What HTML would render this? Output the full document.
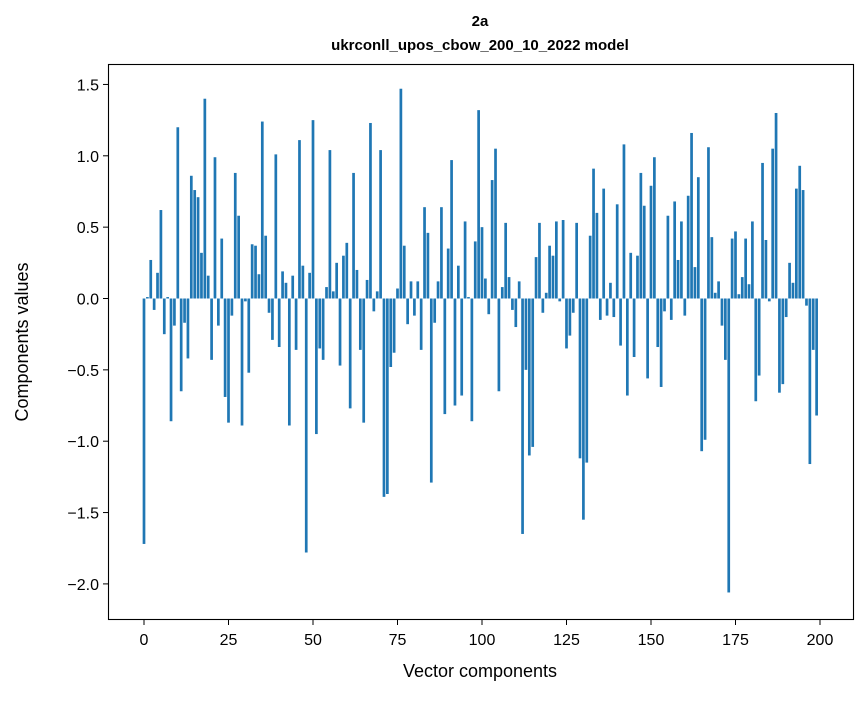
<!DOCTYPE html>
<html><head><meta charset="utf-8"><style>
body{margin:0;background:#fff;}
svg text{font-family:"Liberation Sans","DejaVu Sans",sans-serif;fill:#000;}
</style></head><body>
<svg id="chart" width="867" height="696" xmlns="http://www.w3.org/2000/svg">
<rect x="0" y="0" width="867" height="696" fill="#fff"/>
<text x="480" y="26" text-anchor="middle" font-size="15" font-weight="bold">2a</text>
<text x="480" y="50" text-anchor="middle" font-size="15" font-weight="bold">ukrconll_upos_cbow_200_10_2022 model</text>
<g id="bars"></g>
<rect x="108.5" y="64.5" width="745" height="555" fill="none" stroke="#000" stroke-width="1.1"/>
<g id="xticks"></g>
<g id="yticks"></g>
<text x="480" y="677" text-anchor="middle" font-size="18">Vector components</text>
<text transform="translate(28,342) rotate(-90)" text-anchor="middle" font-size="18">Components values</text>
</svg>
<script>
const values = [-1.72,0.01,0.27,-0.08,0.18,0.62,-0.25,0.01,-0.86,-0.19,1.20,-0.65,-0.17,-0.42,0.86,0.76,0.71,0.32,1.40,0.16,-0.43,0.99,-0.19,0.42,-0.69,-0.87,-0.12,0.88,0.58,-0.89,-0.02,-0.52,0.38,0.37,0.17,1.24,0.44,-0.10,-0.29,1.01,-0.34,0.19,0.11,-0.89,0.16,-0.36,1.11,0.23,-1.78,0.18,1.25,-0.95,-0.35,-0.43,0.08,1.04,0.05,0.25,-0.47,0.30,0.39,-0.77,0.88,0.20,-0.36,-0.87,0.13,1.23,-0.09,0.05,1.04,-1.39,-1.37,-0.48,-0.38,0.07,1.47,0.37,-0.18,0.12,-0.12,0.12,-0.36,0.64,0.46,-1.29,-0.17,0.12,0.64,-0.81,0.35,0.97,-0.75,0.23,-0.68,0.54,0.01,-0.86,0.40,1.32,0.50,0.14,-0.11,0.83,1.05,-0.65,0.08,0.53,0.15,-0.08,-0.20,0.12,-1.65,-0.50,-1.10,-1.04,0.29,0.53,-0.10,0.04,0.37,0.30,0.54,-0.02,0.55,-0.35,-0.26,-0.10,0.53,-1.12,-1.55,-1.15,0.44,0.91,0.60,-0.15,0.77,-0.12,0.11,-0.13,0.66,-0.33,1.08,-0.68,0.32,-0.41,0.30,0.88,0.65,-0.56,0.79,0.99,-0.34,-0.62,-0.09,0.58,-0.15,0.68,0.27,0.54,-0.12,0.72,1.16,0.22,0.85,-1.07,-0.99,1.06,0.43,0.04,0.12,-0.19,-0.43,-2.06,0.42,0.47,0.03,0.15,0.42,0.10,0.54,-0.72,-0.54,0.95,0.41,-0.02,1.05,1.30,-0.66,-0.60,-0.13,0.25,0.11,0.77,0.93,0.76,-0.05,-1.16,-0.36,-0.82];
const xTicks = [0,25,50,75,100,125,150,175,200];
const yTicks = [-2.0,-1.5,-1.0,-0.5,0.0,0.5,1.0,1.5];
const yTickLabels = ["\u22122.0","\u22121.5","\u22121.0","\u22120.5","0.0","0.5","1.0","1.5"];

const NS="http://www.w3.org/2000/svg";
function xScale(v){return 144+v*(676/200);}
function yScale(v){return 298.5-v*142.7;}
const barsG=document.getElementById('bars');
values.forEach((v,i)=>{
  const r=document.createElementNS(NS,'rect');
  const x0=xScale(i-0.4), x1=xScale(i+0.4);
  const y0=yScale(Math.max(v,0)), y1=yScale(Math.min(v,0));
  r.setAttribute('x',x0);r.setAttribute('width',x1-x0);
  r.setAttribute('y',y0);r.setAttribute('height',Math.max(y1-y0,0.3));
  r.setAttribute('fill','#1f77b4');
  
  
  barsG.appendChild(r);
});
const xg=document.getElementById('xticks');
xTicks.forEach(t=>{
  const x=xScale(t);
  const l=document.createElementNS(NS,'line');
  l.setAttribute('x1',x);l.setAttribute('x2',x);l.setAttribute('y1',620);l.setAttribute('y2',625);
  l.setAttribute('stroke','#000');
  
  
  xg.appendChild(l);
  const tx=document.createElementNS(NS,'text');
  tx.setAttribute('x',x);tx.setAttribute('y',645);tx.setAttribute('text-anchor','middle');tx.setAttribute('font-size','16');
  tx.textContent=t;
  
  
  xg.appendChild(tx);
});
const yg=document.getElementById('yticks');
yTicks.forEach((t,i)=>{
  const y=yScale(t);
  const l=document.createElementNS(NS,'line');
  l.setAttribute('x1',103);l.setAttribute('x2',108);l.setAttribute('y1',y);l.setAttribute('y2',y);
  l.setAttribute('stroke','#000');
  
  
  yg.appendChild(l);
  const tx=document.createElementNS(NS,'text');
  tx.setAttribute('x',99);tx.setAttribute('y',y+6);tx.setAttribute('text-anchor','end');tx.setAttribute('font-size','16');
  tx.textContent=yTickLabels[i];
  
  
  yg.appendChild(tx);
});
</script>
</body></html>
